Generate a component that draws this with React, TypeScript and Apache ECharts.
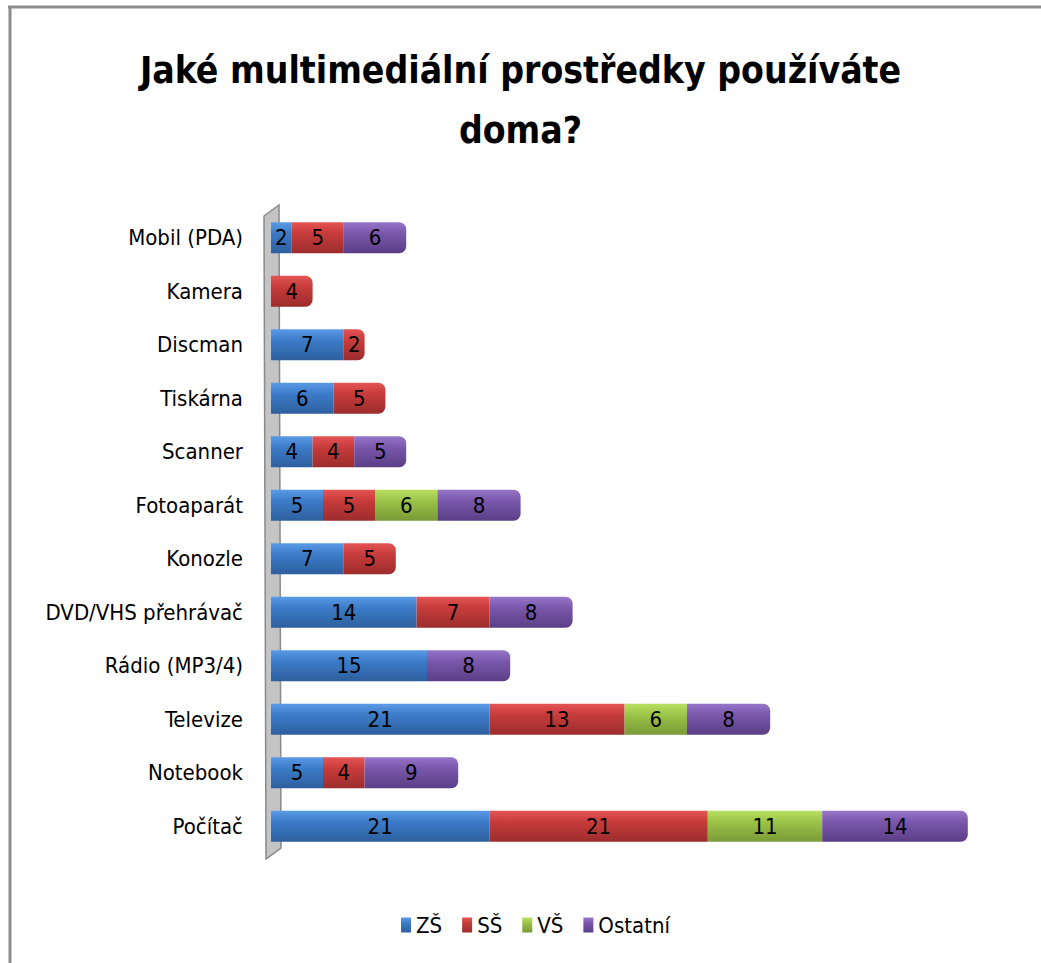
import React, { useEffect, useRef } from "react";
import * as echarts from "echarts";

const categories = [
  "Mobil (PDA)",
  "Kamera",
  "Discman",
  "Tiskárna",
  "Scanner",
  "Fotoaparát",
  "Konozle",
  "DVD/VHS přehrávač",
  "Rádio (MP3/4)",
  "Televize",
  "Notebook",
  "Počítač",
];
const seriesNames = ["ZŠ", "SŠ", "VŠ", "Ostatní"];
const zs = [2, 0, 7, 6, 4, 5, 7, 14, 15, 21, 5, 21];
const ss = [5, 4, 2, 5, 4, 5, 5, 7, 0, 13, 4, 21];
const vs = [0, 0, 0, 0, 0, 6, 0, 0, 0, 6, 0, 11];
const ostatni = [6, 0, 0, 0, 5, 8, 0, 8, 8, 8, 9, 14];
const titleText = "Jaké multimediální prostředky používáte\ndoma?";

const FONT = "'DejaVu Sans Condensed', 'Liberation Sans Narrow', 'Open Sans', sans-serif";

const colors = [
  ["#5a9ae6", "#3d7cc9", "#2d5f9e"],
  ["#e65454", "#c83c3c", "#9c2c2c"],
  ["#b8e060", "#9cc449", "#7a9a36"],
  ["#9676c8", "#7a58ac", "#5a3e86"],
];

export default function App() {
  const ref = useRef<HTMLDivElement>(null);
  useEffect(() => {
    if (!ref.current) return;
    const chart = echarts.init(ref.current, undefined, { renderer: "svg" });
    const all = [zs, ss, vs, ostatni];
    const lastIdx = categories.map((_, i) => {
      let last = -1;
      all.forEach((arr, s) => {
        if (arr[i] > 0) last = s;
      });
      return last;
    });
    const series = all.map((arr, s) => ({
      name: seriesNames[s],
      type: "bar",
      stack: "total",
      barWidth: 31,
      data: arr.map((v, i) => ({
        value: v > 0 ? v : null,
        itemStyle:
          lastIdx[i] === s ? { borderRadius: [0, 7, 7, 0] } : undefined,
      })),
      itemStyle: {
        color: new echarts.graphic.LinearGradient(0, 0, 0, 1, [
          { offset: 0, color: colors[s][0] },
          { offset: 0.35, color: colors[s][1] },
          { offset: 1, color: colors[s][2] },
        ]),
      },
      label: {
        show: true,
        position: "inside",
        color: "#000",
        fontFamily: FONT,
        fontSize: 22,
        formatter: (p: any) => (p.value ? String(p.value) : ""),
      },
    }));
    chart.setOption({
      animation: false,
      backgroundColor: "#fff",
      color: colors.map((c) => c[1]),
      title: {
        text: titleText,
        left: "center",
        top: 35,
        textStyle: {
          fontFamily: FONT,
          fontWeight: "bold",
          fontSize: 37,
          lineHeight: 60,
          color: "#000",
        },
      },
      legend: {
        bottom: 22,
        left: 396,
        itemWidth: 10,
        itemHeight: 15,
        itemGap: 20,
        icon: "rect",
        textStyle: { fontFamily: FONT, fontSize: 22, color: "#000" },
        data: seriesNames,
      },
      grid: { left: 271, top: 211, width: 728, height: 642 },
      xAxis: {
        type: "value",
        min: 0,
        max: 70,
        show: false,
      },
      yAxis: {
        type: "category",
        inverse: true,
        data: categories,
        axisLine: { show: false },
        axisTick: { show: false },
        axisLabel: {
          margin: 28,
          fontFamily: FONT,
          fontSize: 22,
          color: "#000",
        },
      },
      graphic: [
        {
          type: "polygon",
          z: -1,
          shape: {
            points: [
              [264, 216],
              [279, 205],
              [281, 848],
              [266, 859],
            ],
          },
          style: { fill: "#c4c4c4", stroke: "#8a8a8a", lineWidth: 1.5 },
        },
        {
          type: "line",
          shape: { x1: 8, y1: 7, x2: 1041, y2: 7 },
          style: { stroke: "#8c8c8c", lineWidth: 3 },
        },
        {
          type: "line",
          shape: { x1: 10, y1: 6, x2: 10, y2: 963 },
          style: { stroke: "#8c8c8c", lineWidth: 3 },
        },
      ],
      series,
    });
    return () => chart.dispose();
  }, []);
  return (
    <div
      ref={ref}
      style={{ position: "absolute", left: 0, top: 0, width: 1041, height: 963 }}
    />
  );
}
